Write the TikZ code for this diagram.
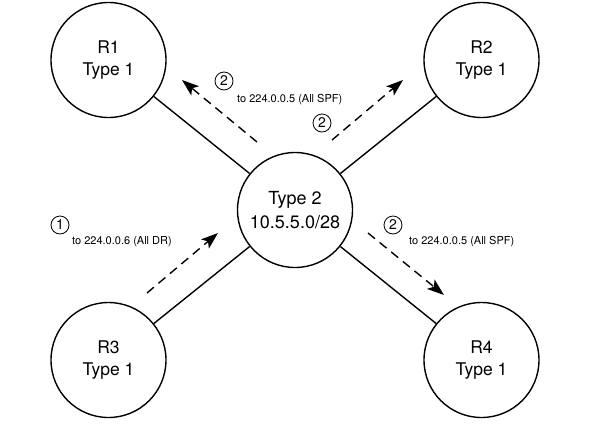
\documentclass[tikz,border=0pt]{standalone}
\usepackage{fontspec}
\setmainfont{TeX Gyre Heros}
\usetikzlibrary{calc,arrows.meta}

\begin{document}
\begin{tikzpicture}[x=1pt,y=-1pt,
    router/.style={draw,circle,line width=1.4pt,minimum size=115pt,inner sep=0pt,
      align=center,font=\fontsize{17.5}{22}\selectfont},
    link/.style={line width=1.4pt},
    flood/.style={line width=1.4pt,dash pattern=on 9pt off 6pt,
      -{Stealth[length=17pt,width=12pt,inset=4pt]}},
    stepnum/.style={draw,circle,line width=0.8pt,minimum size=18pt,inner sep=0pt,
      font=\fontsize{14}{14}\selectfont},
    dest/.style={anchor=west,inner sep=0pt,font=\fontsize{11}{13}\selectfont}]
  \useasboundingbox (0,0) rectangle (605,429);
  % the DR segment in the middle
  \node[router,font=\fontsize{18}{23.5}\selectfont] (DR) at (295,210)
    {Type 2\\10.5.5.0/28};
  \foreach \name/\x/\y in {R1/108.5/60,R2/481.5/60,R3/108.5/360,R4/481.5/360}{%
    \node[router] (\name) at (\x,\y) {\name\\Type 1};
    \draw[link] (DR) -- (\name);
  }
  % the multicast floods
  \foreach \name/\xa/\ya/\xb/\yb in {%
    toR1/257/142/182/80,
    toR2/332/140/403/80,
    fromR3/147/293/218/233,
    toR4/368/233/444/295}{%
      \coordinate (\name s) at (\xa,\ya);
      \coordinate (\name e) at (\xb,\yb);
      \draw[flood] (\name s) -- (\name e);
  }
  \node[stepnum] (n1) at (60,225) {1};
  \node[stepnum] (n2a) at (224,81) {2};
  \node[stepnum] (n2b) at (322,123) {2};
  \node[stepnum] (n2c) at (393,225) {2};
  \node[dest] (allspf1) at (237,100) {to 224.0.0.5 (All SPF)};
  \node[dest] (alldr) at (72,242) {to 224.0.0.6 (All DR)};
  \node[dest] (allspf2) at (409,242) {to 224.0.0.5 (All SPF)};
\end{tikzpicture}
\end{document}
